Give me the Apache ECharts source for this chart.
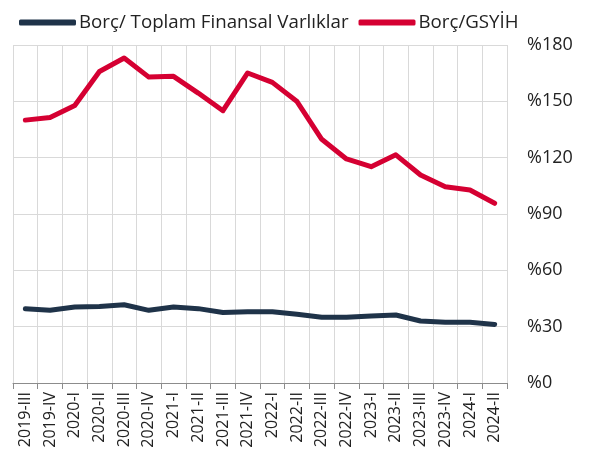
<!DOCTYPE html>
<html>
<head>
<meta charset="utf-8">
<script src="https://cdn.jsdelivr.net/npm/echarts@6/dist/echarts.min.js"></script>
<style>
  html, body { margin: 0; padding: 0; background: #fff; }
  #chart { width: 597px; height: 464px; }
</style>
</head>
<body>
<div id="chart"></div>
<script>
// dönemler (çeyrek)
const quarters = ['2019-III', '2019-IV', '2020-I', '2020-II', '2020-III', '2020-IV',
  '2021-I', '2021-II', '2021-III', '2021-IV', '2022-I', '2022-II', '2022-III', '2022-IV',
  '2023-I', '2023-II', '2023-III', '2023-IV', '2024-I', '2024-II']

const debtToAssets = [39.6, 38.7, 40.5, 40.8, 41.7, 38.7, 40.5, 39.6, 37.5, 38.0,
  38.0, 36.6, 35.0, 35.0, 35.7, 36.2, 33.0, 32.3, 32.3, 31.2]

const debtToGdp = [140.0, 141.4, 147.8, 165.9, 173.1, 162.9, 163.3, 154.4, 145.0, 165.1,
  160.1, 149.9, 129.8, 119.3, 115.2, 121.5, 110.8, 104.5, 102.8, 95.7]

const yTicks = { min: 0, max: 180, interval: 30 }

const font = '"Open Sans", "Noto Sans", sans-serif'

const myChart = echarts.init(document.getElementById('chart'))

myChart.setOption({
  animation: false,
  textStyle: { fontFamily: font },
  legend: {
    left: 14,
    top: 8,
    icon: 'roundRect',
    itemWidth: 57,
    itemHeight: 6,
    itemGap: 10,
    textStyle: { fontSize: 18.7, color: '#222', fontFamily: font, padding: [0, 0, 0, -2] },
    data: ['Borç/ Toplam Finansal Varlıklar', 'Borç/GSYİH']
  },
  grid: { left: 13, right: 90, top: 45, bottom: 81 },
  xAxis: {
    type: 'category',
    data: quarters,
    boundaryGap: true,
    axisLine: { lineStyle: { color: '#8c8c8c' } },
    axisTick: { show: true, length: 6, lineStyle: { color: '#8c8c8c' } },
    axisLabel: { rotate: 90, interval: 0, fontSize: 16, color: '#222', margin: 9 },
    splitLine: { show: true, lineStyle: { color: '#d9d9d9' } }
  },
  yAxis: {
    type: 'value',
    position: 'right',
    min: yTicks.min,
    max: yTicks.max,
    interval: yTicks.interval,
    axisLine: { show: false },
    axisTick: { show: false },
    axisLabel: { formatter: '%{value}', fontSize: 18, color: '#222', margin: 20 },
    splitLine: { lineStyle: { color: '#d9d9d9' } }
  },
  series: [
    {
      name: 'Borç/ Toplam Finansal Varlıklar',
      type: 'line',
      symbol: 'none',
      data: debtToAssets,
      lineStyle: { color: '#1f3349', width: 5, cap: 'round', join: 'round' },
      itemStyle: { color: '#1f3349' }
    },
    {
      name: 'Borç/GSYİH',
      type: 'line',
      symbol: 'none',
      data: debtToGdp,
      lineStyle: { color: '#d50032', width: 5, cap: 'round', join: 'round' },
      itemStyle: { color: '#d50032' }
    }
  ]
})
</script>
</body>
</html>
